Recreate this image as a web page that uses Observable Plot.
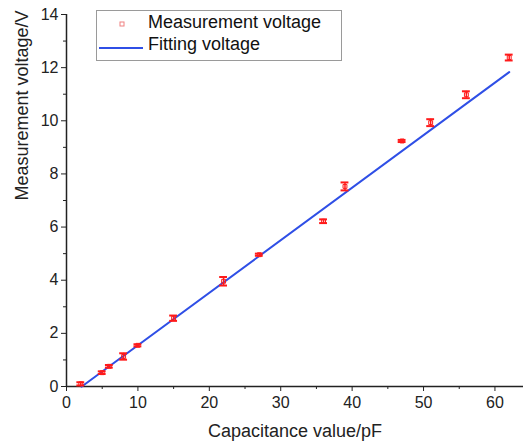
<!DOCTYPE html>
<html>
<head>
<meta charset="utf-8">
<script src="https://cdn.jsdelivr.net/npm/d3@7"></script>
<script src="https://cdn.jsdelivr.net/npm/@observablehq/plot@0.6"></script>
<style>
  html, body { margin: 0; padding: 0; background: #fff; }
  #wrap { position: relative; width: 523px; height: 444px; font-family: "Liberation Sans", Arial, sans-serif; }
  #legend { position: absolute; left: 96px; top: 10px; width: 246px; height: 51px; border: 1px solid #9a9a9a; background: #fff; box-sizing: border-box; }
  #legend .row { position: absolute; left: 0; font-size: 18px; line-height: 21px; color: #111; white-space: nowrap; }
  #legend svg { position: absolute; left: 0; top: 0; }
</style>
</head>
<body>
<div id="wrap"></div>
<script>
// Data
const capacitance = [2, 5, 6, 8, 10, 15, 22, 27, 36, 39, 47, 51, 56, 62];
const voltage     = [0.10, 0.52, 0.76, 1.13, 1.55, 2.57, 3.96, 4.96, 6.22, 7.53, 9.24, 9.93, 10.98, 12.38];
const voltErr     = [0.06, 0.05, 0.05, 0.12, 0.04, 0.10, 0.16, 0.04, 0.07, 0.15, 0.04, 0.13, 0.13, 0.11];
const fitX = [2.1, 62];
const fitY = [-0.01, 11.83];
const xMajorTicks = [0, 10, 20, 30, 40, 50, 60];
const xMinorTicks = [5, 15, 25, 35, 45, 55];
const yMajorTicks = [0, 2, 4, 6, 8, 10, 12, 14];
const yMinorTicks = [1, 3, 5, 7, 9, 11, 13];
const legendLabels = ["Measurement voltage", "Fitting voltage"];

const meas = capacitance.map((c, i) => ({x: c, y: voltage[i], e: voltErr[i]}));
const fit = fitX.map((x, i) => ({x, y: fitY[i]}));

const red = "#ff1a1a";
const blue = "#2f4fe6";
const capHalf = 0.55;

const chart = Plot.plot({
  width: 523,
  height: 444,
  marginLeft: 66,
  marginRight: 0,
  marginTop: 14,
  marginBottom: 58,
  style: {fontFamily: "Liberation Sans, Arial, sans-serif", fontSize: "16px", color: "#222", background: "white"},
  x: {domain: [0, 64]},
  y: {domain: [0, 14]},
  marks: [
    // axis lines
    Plot.ruleY([0], {stroke: "#222", strokeWidth: 1.5}),
    Plot.ruleX([0], {y1: 0, y2: 14, stroke: "#222", strokeWidth: 1.5}),
    // x axis
    Plot.axisX({ticks: xMajorTicks, tickSize: 5, tickPadding: 5, tickFormat: d => d, fontSize: 16, stroke: "#222", label: null}),
    Plot.axisX({ticks: xMinorTicks, tickSize: 3, tickFormat: () => "", stroke: "#222", label: null}),
    // y axis
    Plot.axisY({ticks: yMajorTicks, tickSize: 5, tickPadding: 3, tickFormat: d => d, fontSize: 16, stroke: "#222", label: null}),
    Plot.axisY({ticks: yMinorTicks, tickSize: 3, tickFormat: () => "", stroke: "#222", label: null}),
    // axis titles
    Plot.text(["Capacitance value/pF"], {frameAnchor: "bottom", dy: 50, fontSize: 18, fill: "#222", textAnchor: "middle"}),
    Plot.text(["Measurement voltage/V"], {frameAnchor: "left", dx: -44, rotate: -90, fontSize: 18, fill: "#222"}),
    // fit line
    Plot.line(fit, {x: "x", y: "y", stroke: blue, strokeWidth: 2}),
    // error bars
    Plot.ruleX(meas, {x: "x", y1: d => d.y - d.e, y2: d => d.y + d.e, stroke: red, strokeWidth: 1.5}),
    Plot.ruleY(meas, {y: d => d.y - d.e, x1: d => d.x - capHalf, x2: d => d.x + capHalf, stroke: red, strokeWidth: 2}),
    Plot.ruleY(meas, {y: d => d.y + d.e, x1: d => d.x - capHalf, x2: d => d.x + capHalf, stroke: red, strokeWidth: 2}),
    Plot.dot(meas, {x: "x", y: "y", symbol: "square", r: 2.2, stroke: red, fill: "none", strokeWidth: 1})
  ]
});

const wrap = document.getElementById("wrap");
wrap.appendChild(chart);

// Legend
const legend = document.createElement("div");
legend.id = "legend";
legend.innerHTML = `
  <svg width="246" height="51">
    <rect x="23" y="11" width="4" height="4" fill="none" stroke="#f08080" stroke-width="1"/>
    <line x1="2" y1="37" x2="46" y2="37" stroke="${blue}" stroke-width="2"/>
  </svg>
  <div class="row" style="left:51px; top:1px;">${legendLabels[0]}</div>
  <div class="row" style="left:51px; top:23px;">${legendLabels[1]}</div>`;
wrap.appendChild(legend);
</script>
</body>
</html>
